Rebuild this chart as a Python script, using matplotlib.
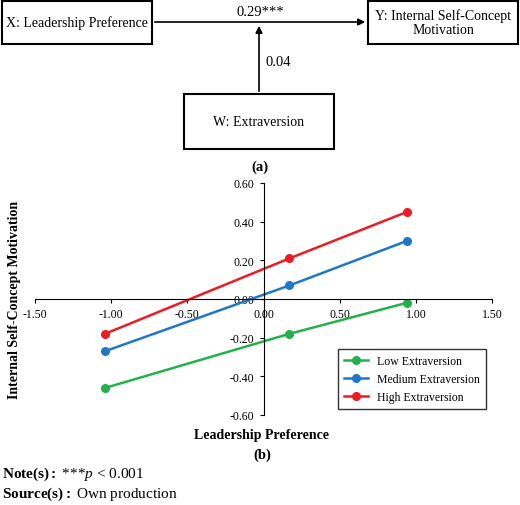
import matplotlib.pyplot as plt
from matplotlib.patches import Rectangle, FancyArrowPatch

plt.rcParams['font.family'] = ['Liberation Serif', 'DejaVu Serif']
plt.rcParams['mathtext.fontset'] = 'custom'
plt.rcParams['mathtext.rm'] = 'Liberation Serif'
plt.rcParams['mathtext.it'] = 'Liberation Serif:italic'
plt.rcParams['mathtext.bf'] = 'Liberation Serif:bold'

x_vals = [-1.04, 0.17, 0.94]
low = [-0.46, -0.18, -0.02]
medium = [-0.27, 0.07, 0.30]
high = [-0.18, 0.21, 0.45]
series = [("Low Extraversion", low, "#22b14c"),
          ("Medium Extraversion", medium, "#1f77c8"),
          ("High Extraversion", high, "#ed1c24")]

W, H = 520, 506
fig = plt.figure(figsize=(W / 100, H / 100), dpi=100)


def fx(px):
    return px / W


def fy(py):
    return 1 - py / H


# (a) path diagram
for (x0, y0, x1, y1, txt) in [(2, 2, 152, 45, "X: Leadership Preference"),
                              (368, 2, 518, 45, "Y: Internal Self-Concept\nMotivation"),
                              (184, 95, 334, 150, "W: Extraversion")]:
    fig.patches.append(Rectangle((fx(x0), fy(y1)), fx(x1 - x0), (y1 - y0) / H,
                                 transform=fig.transFigure, fill=False, lw=1.5, color='black'))
    fig.text(fx((x0 + x1) / 2), fy((y0 + y1) / 2), txt, ha='center', va='center',
             fontsize=10, linespacing=1.1)

fig.add_artist(FancyArrowPatch((fx(152), fy(23)), (fx(368), fy(23)), transform=fig.transFigure,
                               arrowstyle='-|>', mutation_scale=10, lw=1.2, color='black'))
fig.add_artist(FancyArrowPatch((fx(259), fy(95)), (fx(259), fy(24)), transform=fig.transFigure,
                               arrowstyle='-|>', mutation_scale=10, lw=1.2, color='black'))
fig.text(fx(260), fy(13), "0.29***", ha='center', va='center', fontsize=10.5)
fig.text(fx(278), fy(62), "0.04", ha='center', va='center', fontsize=10.5)
fig.text(fx(260), fy(167), "(a)", ha='center', va='center', fontsize=10.5, fontweight='bold')

# (b) interaction plot
ax = fig.add_axes([fx(35), fy(416), fx(492 - 35), (416 - 184) / H])
for name, vals, col in series:
    ax.plot(x_vals, vals, '-o', color=col, lw=1.8, ms=5.5, label=name)
ax.set_xlim(-1.5, 1.5)
ax.set_ylim(-0.6, 0.6)
ax.set_xticks([-1.5, -1.0, -0.5, 0.0, 0.5, 1.0, 1.5])
ax.set_yticks([-0.6, -0.4, -0.2, 0.0, 0.2, 0.4, 0.6])
ax.xaxis.set_major_formatter(lambda v, p: f"{v:.2f}")
ax.yaxis.set_major_formatter(lambda v, p: f"{v:.2f}")
ax.spines['left'].set_position('zero')
ax.spines['bottom'].set_position('zero')
ax.spines['top'].set_visible(False)
ax.spines['right'].set_visible(False)
ax.tick_params(labelsize=8.5, length=3, direction='out')
ax.legend(loc='lower right', bbox_to_anchor=(1.0, 0.0), fontsize=8.5, frameon=True,
          fancybox=False, edgecolor='black', borderpad=0.5)

fig.text(fx(15), fy(300), "Internal Self-Concept Motivation", rotation=90, ha='center',
         va='center', fontsize=10, fontweight='bold')
fig.text(fx(262), fy(436), "Leadership Preference", ha='center', va='center',
         fontsize=10, fontweight='bold')
fig.text(fx(262), fy(455), "(b)", ha='center', va='center', fontsize=10.5, fontweight='bold')

fig.text(fx(2), fy(474), r"$\mathbf{Note(s):}$ ***$\mathit{p}$ < 0.001", ha='left', va='center', fontsize=11)
fig.text(fx(2), fy(494), r"$\mathbf{Source(s):}$ Own production", ha='left', va='center', fontsize=11)

fig.savefig("out.png", dpi=100)
